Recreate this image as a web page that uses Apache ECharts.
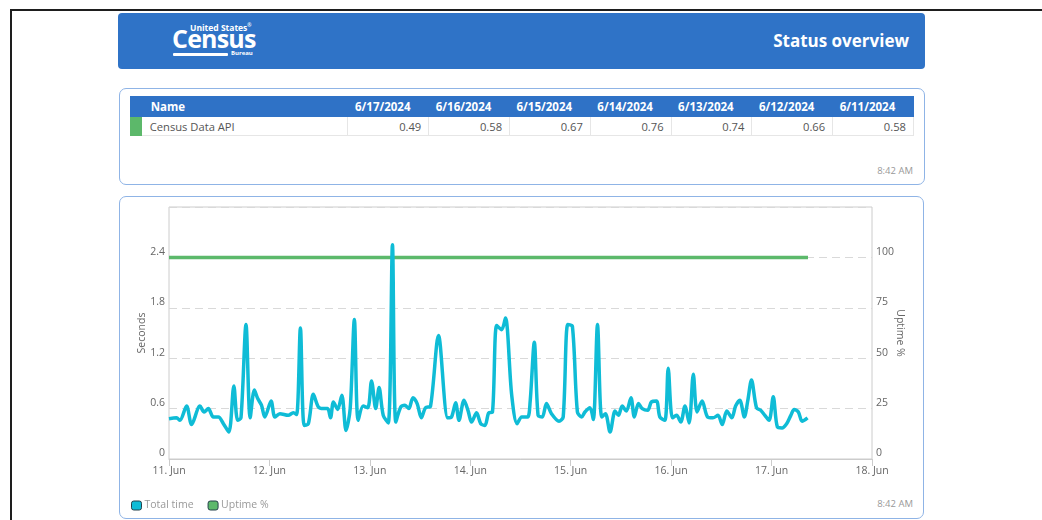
<!DOCTYPE html>
<html>
<head>
<meta charset="utf-8">
<script src="https://cdn.jsdelivr.net/npm/echarts@6/dist/echarts.min.js"></script>
<style>
  html, body { margin:0; padding:0; width:1042px; height:520px; overflow:hidden; background:#fff; font-family:"Open Sans", sans-serif; }
  .abs { position:absolute; }
  #frame { left:10px; top:9px; width:1040px; height:520px; border-top:2px solid #1e1e1e; border-left:2px solid #1e1e1e; }
  #banner { left:118px; top:13px; width:807px; height:56px; background:#2f73c7; border-radius:4px; }
  #title { right:133px; top:29px; color:#fff; font-weight:700; font-size:17px; line-height:24px; }
  .logo { color:#fff; font-weight:700; white-space:nowrap; }
  #us { left:190px; top:19px; font-size:8.5px; line-height:12px; }
  #census { left:172px; top:22px; font-size:25px; line-height:32px; letter-spacing:-0.8px; }
  #bar { left:173px; top:53px; width:55px; height:3px; background:#fff; border-radius:1px; }
  #bureau { left:231px; top:49px; font-size:6px; line-height:8px; }
  .panel { border:1px solid #8fb4e6; border-radius:7px; box-sizing:border-box; }
  #tpanel { left:119px; top:88px; width:806px; height:97px; }
  #cpanel { left:119px; top:196px; width:805px; height:323px; }
  table { position:absolute; left:130px; top:96px; border-collapse:collapse; table-layout:fixed; width:784px; }
  th { background:#2f72c6; color:#fff; font-weight:700; font-size:11.5px; height:21px; padding:0 0 0 7px; text-align:left; }
  td { font-size:11.2px; color:#555; height:18px; padding:0 7px 0 7px; text-align:right; border:1px solid #e6e6e6; border-top:none; }
  td.name { text-align:left; padding-left:8px; border-left:none; }
  td.mark { background:#5cb86a; padding:0; border:none; }
  .time { font-size:9.5px; color:#999; }
  #t1 { right:129px; top:164px; }
  #t2 { right:129px; top:497px; }
  #chart { left:0; top:0; width:1042px; height:520px; }
</style>
</head>
<body>
<div id="frame" class="abs"></div>
<div id="banner" class="abs"></div>
<div id="us" class="abs logo">United States<sup style="font-size:5px">®</sup></div>
<div id="census" class="abs logo">Census</div>
<div id="bar" class="abs"></div>
<div id="bureau" class="abs logo">Bureau</div>
<div id="title" class="abs">Status overview</div>
<div id="tpanel" class="abs panel"></div>
<div id="cpanel" class="abs panel"></div>
<table id="tbl"></table>
<div id="t1" class="abs time">8:42 AM</div>
<div id="t2" class="abs time">8:42 AM</div>
<div id="chart" class="abs"></div>
<script>
// ---- table data ----
var tableDates = ["6/17/2024","6/16/2024","6/15/2024","6/14/2024","6/13/2024","6/12/2024","6/11/2024"];
var tableName = "Census Data API";
var tableValues = ["0.49","0.58","0.67","0.76","0.74","0.66","0.58"];

// ---- chart data (hours since 11 Jun 00:00) ----
var dayLabels = ["11. Jun","12. Jun","13. Jun","14. Jun","15. Jun","16. Jun","17. Jun","18. Jun"];
var totalHours = [0,1.8,2.6,4.2,5.4,7.4,8.4,9.4,10.6,11.8,13,14.3,15.5,16.4,17.2,18.4,19.4,20.4,21.2,22.1,22.9,24.4,25.3,26.5,28.5,29.7,30.5,31.4,32.3,33.3,34.5,35.7,36.9,37.9,38.6,39.3,40.3,41.3,42.3,43.3,44.3,45.2,46.4,47.5,48.4,49.4,50.2,51.2,52.4,53.4,54.2,55.4,56.4,57.3,58.3,59.3,60.3,61.3,62.5,64.4,66.6,67.5,68.5,69.3,70.5,71.5,72.3,73.5,74.5,75.5,76.4,77.3,78.3,79.5,80.4,81.9,83.2,84.3,85.7,86.3,87.3,88.2,89.2,90.2,91.4,93.2,94.2,95.3,96.4,97.6,98.6,99.4,100.6,101.4,102.4,103.4,104.3,105.4,106.6,107.4,108.3,109.3,110.4,111.2,112.2,113.1,114.4,115.3,116.5,117.3,118.5,119.3,120.3,121.3,122.3,123.3,124.3,125.3,126.2,127.4,128.7,130.0,131.2,132.2,133.3,134.5,135.4,136.4,137.5,138.3,139.2,140.4,141.4,142.4,143.4,144.4,145.4,146.5,147.6,148.6,149.4,150.4,151.3,152.6];
var totalSeconds = [0.48,0.49,0.46,0.63,0.41,0.63,0.56,0.60,0.50,0.50,0.42,0.32,0.87,0.46,0.49,1.60,0.49,0.82,0.72,0.64,0.50,0.69,0.50,0.54,0.52,0.55,0.53,1.56,0.40,0.42,0.77,0.62,0.60,0.60,0.49,0.68,0.59,0.76,0.34,0.60,1.66,0.46,0.63,0.61,0.93,0.60,0.85,0.52,0.43,2.55,0.44,0.62,0.64,0.60,0.73,0.66,0.49,0.61,0.63,1.47,0.49,0.50,0.67,0.46,0.70,0.57,0.44,0.55,0.42,0.40,0.55,0.56,1.59,1.54,1.68,0.76,0.42,0.50,0.50,0.68,1.39,0.52,0.50,0.66,0.54,0.45,0.50,1.60,1.58,0.56,0.50,0.56,0.61,0.47,1.60,0.50,0.54,0.32,0.57,0.52,0.63,0.57,0.73,0.50,0.66,0.60,0.58,0.68,0.69,0.50,0.46,1.08,0.49,0.52,0.44,0.63,0.43,1.01,0.56,0.69,0.50,0.49,0.52,0.41,0.57,0.49,0.63,0.70,0.50,0.69,0.94,0.61,0.58,0.52,0.46,0.74,0.38,0.37,0.42,0.52,0.59,0.56,0.45,0.49];
var uptimeHours = [0,24,48,72,96,120,144,152.7];
var uptimePct = [100,100,100,100,100,100,100,100];

// build table
var tbl = document.getElementById('tbl');
var head = '<colgroup><col style="width:11.7px"><col style="width:206.3px">' + tableDates.map(function(){return '<col>';}).join('') + '</colgroup>';
head += '<tr><th style="padding:0"></th><th style="padding-left:9px">Name</th>' + tableDates.map(function(d){return '<th>'+d+'</th>';}).join('') + '</tr>';
head += '<tr><td class="mark"></td><td class="name">' + tableName + '</td>' + tableValues.map(function(v){return '<td>'+v+'</td>';}).join('') + '</tr>';
tbl.innerHTML = head;

function pairs(xs, ys){ return xs.map(function(x,i){ return [x, ys[i]]; }); }

var chart = echarts.init(document.getElementById('chart'), null, {renderer:'canvas'});
var txt = {color:'#666', fontSize:10.5, fontFamily:'Open Sans'};
chart.setOption({
  backgroundColor:'transparent',
  animation:false,
  textStyle:{fontFamily:'Open Sans'},
  grid:{left:169, right:170, top:207, bottom:61, show:true, borderColor:'#cccccc', borderWidth:1, backgroundColor:'transparent'},
  legend:{
    left:126, top:495, icon:'roundRect', itemWidth:10, itemHeight:9, itemGap:14,
    textStyle:{color:'#999', fontSize:10.5, fontFamily:'Open Sans', padding:[0,0,0,-2]},
    data:[
      {name:'Total time', itemStyle:{color:'#0fbcd6', borderColor:'#24404a', borderWidth:1}},
      {name:'Uptime %', itemStyle:{color:'#5cb96b', borderColor:'#24404a', borderWidth:1}}
    ]
  },
  xAxis:{
    type:'value', min:0, max:168, interval:24,
    axisLine:{show:true, lineStyle:{color:'#cccccc', width:1}},
    axisTick:{show:true, length:7, lineStyle:{color:'#cccccc'}},
    axisLabel:Object.assign({margin:7, formatter:function(v){ return dayLabels[Math.round(v/24)]; }}, txt),
    splitLine:{show:false}
  },
  yAxis:[
    {type:'value', min:0, max:3, interval:0.6, name:'Seconds', nameLocation:'middle', nameGap:21, nameRotate:90, nameMoveOverlap:false,
     nameTextStyle:txt,
     axisLine:{show:false}, axisTick:{show:false},
     axisLabel:Object.assign({margin:4, verticalAlign:'bottom', formatter:function(v){ return v>=2.99 ? '' : String(+v.toFixed(1)); }}, txt),
     splitLine:{show:true, lineStyle:{color:'#d9d9d9', type:[8,5], width:1}}},
    {type:'value', min:0, max:125, interval:25, name:'Uptime %', nameLocation:'middle', nameGap:22, nameRotate:-90, nameMoveOverlap:false,
     nameTextStyle:txt,
     axisLine:{show:false}, axisTick:{show:false},
     axisLabel:Object.assign({margin:4, verticalAlign:'bottom', formatter:function(v){ return v>=124 ? '' : String(v); }}, txt),
     splitLine:{show:false}}
  ],
  series:[
    {name:'Total time', type:'line', yAxisIndex:0, data:pairs(totalHours,totalSeconds), smooth:0.3, showSymbol:false, symbol:'none',
     lineStyle:{color:'#0fbcd6', width:3.5}, itemStyle:{color:'#0fbcd6'}, z:3},
    {name:'Uptime %', type:'line', yAxisIndex:1, data:pairs(uptimeHours,uptimePct), showSymbol:false, symbol:'none',
     lineStyle:{color:'#5cb96b', width:3.5}, itemStyle:{color:'#5cb96b'}, z:2}
  ]
});
</script>
</body>
</html>
